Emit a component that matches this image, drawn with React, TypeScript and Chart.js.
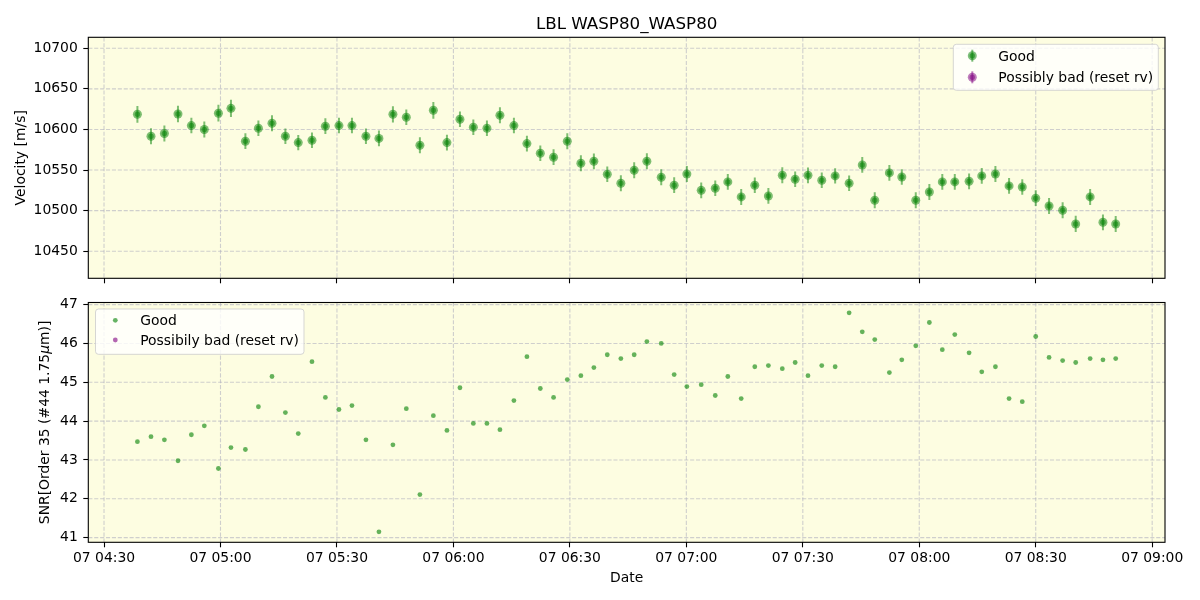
import React, { useEffect, useRef } from "react";
import { Chart, registerables } from "chart.js";

Chart.register(...registerables);

// ---------------- data ----------------
const obsTimes = [
  "04:38:36", "04:42:06", "04:45:33", "04:49:03", "04:52:30", "04:55:50", "04:59:28", "05:02:42", "05:06:25", "05:09:46",
  "05:13:16", "05:16:43", "05:20:02", "05:23:34", "05:27:01", "05:30:31", "05:33:52", "05:37:28", "05:40:49", "05:44:25",
  "05:47:52", "05:51:22", "05:54:50", "05:58:20", "06:01:41", "06:05:08", "06:08:38", "06:11:59", "06:15:35", "06:18:56",
  "06:22:23", "06:25:48", "06:29:20", "06:32:50", "06:36:11", "06:39:38", "06:43:08", "06:46:34", "06:49:50", "06:53:32",
  "06:56:52", "07:00:08", "07:03:50", "07:07:27", "07:10:41", "07:14:08", "07:17:38", "07:21:08", "07:24:43", "07:28:02",
  "07:31:20", "07:34:53", "07:38:20", "07:41:56", "07:45:19", "07:48:32", "07:52:18", "07:55:30", "07:59:06", "08:02:36",
  "08:05:56", "08:09:09", "08:12:50", "08:16:06", "08:19:37", "08:23:08", "08:26:32", "08:30:00", "08:33:26", "08:36:56",
  "08:40:18", "08:44:01", "08:47:19", "08:50:36",
];

const velocity = [
  10618.7, 10591.6, 10595.0, 10619.0, 10604.8, 10600.0, 10620.0, 10626.0, 10585.5, 10601.5,
  10607.6, 10591.6, 10583.8, 10586.7, 10604.0, 10604.8, 10604.8, 10591.6, 10589.0, 10618.7,
  10615.0, 10580.5, 10623.6, 10583.8, 10612.6, 10602.7, 10601.5, 10617.5, 10604.8, 10582.6,
  10570.7, 10565.8, 10585.5, 10558.4, 10560.8, 10544.8, 10533.7, 10549.8, 10560.8, 10541.1,
  10531.3, 10545.2, 10525.0, 10527.6, 10535.4, 10516.9, 10531.3, 10518.1, 10543.6, 10538.7,
  10543.6, 10537.4, 10542.8, 10533.7, 10556.3, 10512.8, 10546.5, 10541.5, 10512.8, 10523.0,
  10535.4, 10535.4, 10536.2, 10542.8, 10545.2, 10530.5, 10529.2, 10515.3, 10505.8, 10500.5,
  10483.6, 10516.9, 10485.7, 10483.6,
];

const velocityErr = [
  10.3, 9.9, 9.8, 10.2, 9.6, 9.8, 10.3, 10.5, 9.7, 9.6,
  9.8, 9.5, 9.4, 9.6, 9.7, 9.6, 9.6, 9.5, 9.7, 10.0,
  9.6, 9.9, 10.3, 9.8, 9.6, 9.5, 9.6, 9.8, 9.5, 9.7,
  9.6, 9.7, 9.8, 9.9, 9.7, 9.6, 9.9, 9.8, 9.9, 9.8,
  9.7, 9.8, 9.7, 9.6, 9.7, 9.8, 9.6, 9.7, 9.8, 9.6,
  9.7, 9.6, 9.5, 9.6, 9.7, 9.8, 9.7, 9.6, 9.8, 9.9,
  9.7, 9.6, 9.7, 9.6, 9.8, 9.7, 9.6, 9.7, 9.8, 9.9,
  10.0, 9.8, 9.7, 9.8,
];

const snr = [
  43.47, 43.60, 43.52, 42.98, 43.65, 43.88, 42.78, 43.32, 43.27, 44.37,
  45.15, 44.22, 43.68, 45.53, 44.61, 44.30, 44.40, 43.52, 41.15, 43.39,
  44.32, 42.11, 44.14, 43.76, 44.86, 43.94, 43.94, 43.78, 44.53, 45.66,
  44.84, 44.61, 45.07, 45.17, 45.38, 45.71, 45.61, 45.71, 46.05, 46.00,
  45.20, 44.89, 44.94, 44.66, 45.15, 44.58, 45.40, 45.43, 45.35, 45.51,
  45.17, 45.43, 45.40, 46.79, 46.30, 46.10, 45.25, 45.58, 45.94, 46.54,
  45.84, 46.23, 45.76, 45.27, 45.40, 44.58, 44.50, 46.18, 45.64, 45.56,
  45.51, 45.61, 45.58, 45.61,
];

// "Possibly bad (reset rv)" series: empty in this night
const badTimes: string[] = [];
const badVelocity: number[] = [];
const badVelocityErr: number[] = [];
const badSnr: number[] = [];

const xTickTimes = ["04:30", "05:00", "05:30", "06:00", "06:30", "07:00", "07:30", "08:00", "08:30", "09:00"];
const velocityTicks = [10450, 10500, 10550, 10600, 10650, 10700];
const snrTicks = [41, 42, 43, 44, 45, 46, 47];

const titleText = "LBL WASP80_WASP80";
const dayLabel = "07";

// ---------------- style ----------------
const FONT = "'DejaVu Sans', 'Liberation Sans', sans-serif";
const FS = 13.9;
const PLOT_BG = "#fdfde1";
const GRID = "rgba(176,176,192,0.6)";
const GOOD = "rgba(0,128,0,0.5)";
const GOOD_DOT = "rgba(0,128,0,0.6)";
const BAD = "rgba(128,0,128,0.5)";
const BAD_DOT = "rgba(128,0,128,0.6)";

const X_MIN = 265.95;
const X_MAX = 543.3;
const TOP_H = 290;
const BOT_H = 310;

function toMinutes(t: string): number {
  const p = t.split(":").map(Number);
  return p[0] * 60 + p[1] + (p[2] || 0) / 60;
}
const pad2 = (n: number) => String(n).padStart(2, "0");
function fmtTime(v: number): string {
  const h = Math.floor(v / 60 + 1e-9);
  const m = Math.round(v - h * 60);
  return `${dayLabel} ${pad2(h)}:${pad2(m)}`;
}

const xTickValues = xTickTimes.map(toMinutes);

function drawBackground(chart: any) {
  const { ctx, chartArea: a } = chart;
  ctx.save();
  ctx.fillStyle = PLOT_BG;
  ctx.fillRect(a.left, a.top, a.right - a.left, a.bottom - a.top);
  ctx.restore();
}

function drawGrid(chart: any, yTicks: number[]) {
  const { ctx, chartArea: a, scales } = chart;
  ctx.save();
  ctx.beginPath();
  ctx.rect(a.left, a.top, a.right - a.left, a.bottom - a.top);
  ctx.clip();
  ctx.strokeStyle = GRID;
  ctx.lineWidth = 1.1;
  ctx.setLineDash([4.1, 1.8]);
  for (const v of xTickValues) {
    const px = scales.x.getPixelForValue(v);
    ctx.beginPath();
    ctx.moveTo(px, a.top);
    ctx.lineTo(px, a.bottom);
    ctx.stroke();
  }
  for (const v of yTicks) {
    const py = scales.y.getPixelForValue(v);
    ctx.beginPath();
    ctx.moveTo(a.left, py);
    ctx.lineTo(a.right, py);
    ctx.stroke();
  }
  ctx.restore();
}

function drawFrame(chart: any) {
  const { ctx, chartArea: a } = chart;
  ctx.save();
  ctx.strokeStyle = "#000";
  ctx.lineWidth = 1.1;
  ctx.setLineDash([]);
  ctx.strokeRect(a.left, a.top, a.right - a.left, a.bottom - a.top);
  ctx.restore();
}

function roundRect(ctx: CanvasRenderingContext2D, x: number, y: number, w: number, h: number, r: number) {
  ctx.beginPath();
  ctx.moveTo(x + r, y);
  ctx.lineTo(x + w - r, y);
  ctx.arcTo(x + w, y, x + w, y + r, r);
  ctx.lineTo(x + w, y + h - r);
  ctx.arcTo(x + w, y + h, x + w - r, y + h, r);
  ctx.lineTo(x + r, y + h);
  ctx.arcTo(x, y + h, x, y + h - r, r);
  ctx.lineTo(x, y + r);
  ctx.arcTo(x, y, x + r, y, r);
  ctx.closePath();
}

function legendBox(ctx: CanvasRenderingContext2D, x: number, y: number, w: number, h: number) {
  ctx.save();
  roundRect(ctx, x, y, w, h, 3);
  ctx.fillStyle = "rgba(255,255,255,0.8)";
  ctx.fill();
  ctx.strokeStyle = "rgba(204,204,204,0.8)";
  ctx.lineWidth = 1;
  ctx.stroke();
  ctx.restore();
}

function disc(ctx: CanvasRenderingContext2D, x: number, y: number, r: number, color: string) {
  ctx.beginPath();
  ctx.arc(x, y, r, 0, Math.PI * 2);
  ctx.fillStyle = color;
  ctx.fill();
}

function rotatedText(ctx: CanvasRenderingContext2D, parts: { text: string; font: string }[], baselineX: number, cy: number) {
  ctx.save();
  ctx.translate(baselineX, cy);
  ctx.rotate(-Math.PI / 2);
  ctx.fillStyle = "#000";
  ctx.textBaseline = "alphabetic";
  ctx.textAlign = "left";
  const widths = parts.map((p) => {
    ctx.font = p.font;
    return ctx.measureText(p.text).width;
  });
  const total = widths.reduce((s, w) => s + w, 0);
  let x = -total / 2;
  parts.forEach((p, i) => {
    ctx.font = p.font;
    ctx.fillText(p.text, x, 0);
    x += widths[i];
  });
  ctx.restore();
}

function xScaleCfg(showLabels: boolean, height: number) {
  return {
    type: "linear" as const,
    min: X_MIN,
    max: X_MAX,
    afterBuildTicks: (s: any) => {
      s.ticks = xTickValues.map((v) => ({ value: v }));
    },
    afterFit: (s: any) => {
      s.height = height;
      s.paddingLeft = 0;
      s.paddingRight = 0;
    },
    ticks: {
      display: showLabels,
      color: "#000",
      font: { family: FONT, size: FS },
      padding: 2.5,
      maxRotation: 0,
      autoSkip: false,
      callback: (v: any) => fmtTime(Number(v)),
    },
    grid: { drawOnChartArea: false, drawTicks: true, tickLength: 5, tickWidth: 1.1, tickColor: "#000" },
    border: { display: false },
  };
}

function yScaleCfg(min: number, max: number, ticks: number[]) {
  return {
    type: "linear" as const,
    min,
    max,
    afterBuildTicks: (s: any) => {
      s.ticks = ticks.map((v) => ({ value: v }));
    },
    afterFit: (s: any) => {
      s.width = 88.3;
      s.paddingTop = 0;
      s.paddingBottom = 0;
    },
    ticks: {
      color: "#000",
      font: { family: FONT, size: FS },
      padding: 5.5,
      autoSkip: false,
      callback: (v: any) => String(v),
    },
    grid: { drawOnChartArea: false, drawTicks: true, tickLength: 5, tickWidth: 1.1, tickColor: "#000" },
    border: { display: false },
  };
}

export default function App() {
  const topRef = useRef<HTMLCanvasElement | null>(null);
  const botRef = useRef<HTMLCanvasElement | null>(null);

  useEffect(() => {
    const goodPts = obsTimes.map((t, i) => ({ x: toMinutes(t), y: velocity[i] }));
    const badPts = badTimes.map((t, i) => ({ x: toMinutes(t), y: badVelocity[i] }));
    const goodSnr = obsTimes.map((t, i) => ({ x: toMinutes(t), y: snr[i] }));
    const badSnrPts = badTimes.map((t, i) => ({ x: toMinutes(t), y: badSnr[i] }));

    const topPlugin = {
      id: "topPanel",
      beforeDraw: (chart: any) => drawBackground(chart),
      beforeDatasetsDraw: (chart: any) => {
        drawGrid(chart, velocityTicks);
        const { ctx, chartArea: a, scales } = chart;
        ctx.save();
        ctx.beginPath();
        ctx.rect(a.left, a.top, a.right - a.left, a.bottom - a.top);
        ctx.clip();
        ctx.lineWidth = 2;
        const bars = (times: string[], vals: number[], errs: number[], color: string) => {
          ctx.strokeStyle = color;
          times.forEach((t, i) => {
            const px = scales.x.getPixelForValue(toMinutes(t));
            const y1 = scales.y.getPixelForValue(vals[i] - errs[i]);
            const y2 = scales.y.getPixelForValue(vals[i] + errs[i]);
            ctx.beginPath();
            ctx.moveTo(px, y1);
            ctx.lineTo(px, y2);
            ctx.stroke();
          });
        };
        bars(obsTimes, velocity, velocityErr, GOOD);
        bars(badTimes, badVelocity, badVelocityErr, BAD);
        ctx.restore();
      },
      afterDraw: (chart: any) => {
        drawFrame(chart);
        const ctx: CanvasRenderingContext2D = chart.ctx;
        const a = chart.chartArea;
        // title
        ctx.save();
        ctx.fillStyle = "#000";
        ctx.font = `16.7px ${FONT}`;
        ctx.textAlign = "center";
        ctx.textBaseline = "alphabetic";
        ctx.fillText(titleText, (a.left + a.right) / 2, 28.5);
        ctx.restore();
        rotatedText(ctx, [{ text: "Velocity [m/s]", font: `${FS}px ${FONT}` }], 25.3, (a.top + a.bottom) / 2);
        // legend
        legendBox(ctx, 953.3, 44.3, 205, 46);
        const entries = [
          { label: "Good", color: GOOD, y: 55.7 },
          { label: "Possibly bad (reset rv)", color: BAD, y: 77.3 },
        ];
        ctx.save();
        entries.forEach((e) => {
          ctx.strokeStyle = e.color;
          ctx.lineWidth = 2;
          ctx.beginPath();
          ctx.moveTo(972.3, e.y - 6);
          ctx.lineTo(972.3, e.y + 6);
          ctx.stroke();
          disc(ctx, 972.3, e.y, 4.5, e.color);
          disc(ctx, 972.3, e.y, 2.7, e.color);
          ctx.fillStyle = "#000";
          ctx.font = `${FS}px ${FONT}`;
          ctx.textAlign = "left";
          ctx.textBaseline = "alphabetic";
          ctx.fillText(e.label, 998.3, e.y + 4.9);
        });
        ctx.restore();
      },
    };

    const botOff = TOP_H;
    const botPlugin = {
      id: "botPanel",
      beforeDraw: (chart: any) => drawBackground(chart),
      beforeDatasetsDraw: (chart: any) => drawGrid(chart, snrTicks),
      afterDraw: (chart: any) => {
        drawFrame(chart);
        const ctx: CanvasRenderingContext2D = chart.ctx;
        const a = chart.chartArea;
        rotatedText(
          ctx,
          [
            { text: "SNR[Order 35 (#44 1.75", font: `${FS}px ${FONT}` },
            { text: "\u03bc", font: `italic ${FS}px ${FONT}` },
            { text: "m)]", font: `${FS}px ${FONT}` },
          ],
          49.3,
          (a.top + a.bottom) / 2
        );
        ctx.save();
        ctx.fillStyle = "#000";
        ctx.font = `${FS}px ${FONT}`;
        ctx.textAlign = "center";
        ctx.textBaseline = "alphabetic";
        ctx.fillText("Date", (a.left + a.right) / 2, 582 - botOff);
        ctx.restore();
        legendBox(ctx, 95.5, 309 - botOff, 208.5, 45.3);
        const entries = [
          { label: "Good", color: GOOD_DOT, y: 320.3 - botOff },
          { label: "Possibily bad (reset rv)", color: BAD_DOT, y: 340 - botOff },
        ];
        ctx.save();
        entries.forEach((e) => {
          disc(ctx, 115.3, e.y, 2.4, e.color);
          ctx.fillStyle = "#000";
          ctx.font = `${FS}px ${FONT}`;
          ctx.textAlign = "left";
          ctx.textBaseline = "alphabetic";
          ctx.fillText(e.label, 140.2, e.y + 4.7);
        });
        ctx.restore();
      },
    };

    const common = {
      responsive: false,
      maintainAspectRatio: false,
      animation: false as const,
      events: [] as any[],
      plugins: { legend: { display: false }, tooltip: { enabled: false }, title: { display: false } },
    };

    const top = new Chart(topRef.current as HTMLCanvasElement, {
      type: "scatter",
      data: {
        datasets: [
          { label: "Good", data: goodPts, pointRadius: 4.5, pointBackgroundColor: GOOD, pointBorderWidth: 0, showLine: false },
          { label: "Good core", data: goodPts, pointRadius: 2.7, pointBackgroundColor: GOOD, pointBorderWidth: 0, showLine: false },
          { label: "Possibly bad (reset rv)", data: badPts, pointRadius: 4.5, pointBackgroundColor: BAD, pointBorderWidth: 0, showLine: false },
        ],
      },
      options: {
        ...common,
        layout: { padding: { top: 37.3, right: 35, bottom: 0, left: 0 } },
        scales: {
          x: xScaleCfg(false, TOP_H - 278.3),
          y: yScaleCfg(10416.7, 10713.5, velocityTicks),
        },
      } as any,
      plugins: [topPlugin],
    });

    const bot = new Chart(botRef.current as HTMLCanvasElement, {
      type: "scatter",
      data: {
        datasets: [
          { label: "Good", data: goodSnr, pointRadius: 2.4, pointBackgroundColor: GOOD_DOT, pointBorderWidth: 0, showLine: false },
          { label: "Possibily bad (reset rv)", data: badSnrPts, pointRadius: 2.4, pointBackgroundColor: BAD_DOT, pointBorderWidth: 0, showLine: false },
        ],
      },
      options: {
        ...common,
        layout: { padding: { top: 302.5 - botOff, right: 35, bottom: 0, left: 0 } },
        scales: {
          x: xScaleCfg(true, TOP_H + BOT_H - 542.3),
          y: yScaleCfg(40.88, 47.055, snrTicks),
        },
      } as any,
      plugins: [botPlugin],
    });

    return () => {
      top.destroy();
      bot.destroy();
    };
  }, []);

  return (
    <div style={{ position: "absolute", left: 0, top: 0, width: 1200, height: 600, background: "#fff" }}>
      <canvas ref={topRef} width={1200} height={TOP_H} style={{ position: "absolute", left: 0, top: 0, width: 1200, height: TOP_H }} />
      <canvas ref={botRef} width={1200} height={BOT_H} style={{ position: "absolute", left: 0, top: TOP_H, width: 1200, height: BOT_H }} />
    </div>
  );
}
